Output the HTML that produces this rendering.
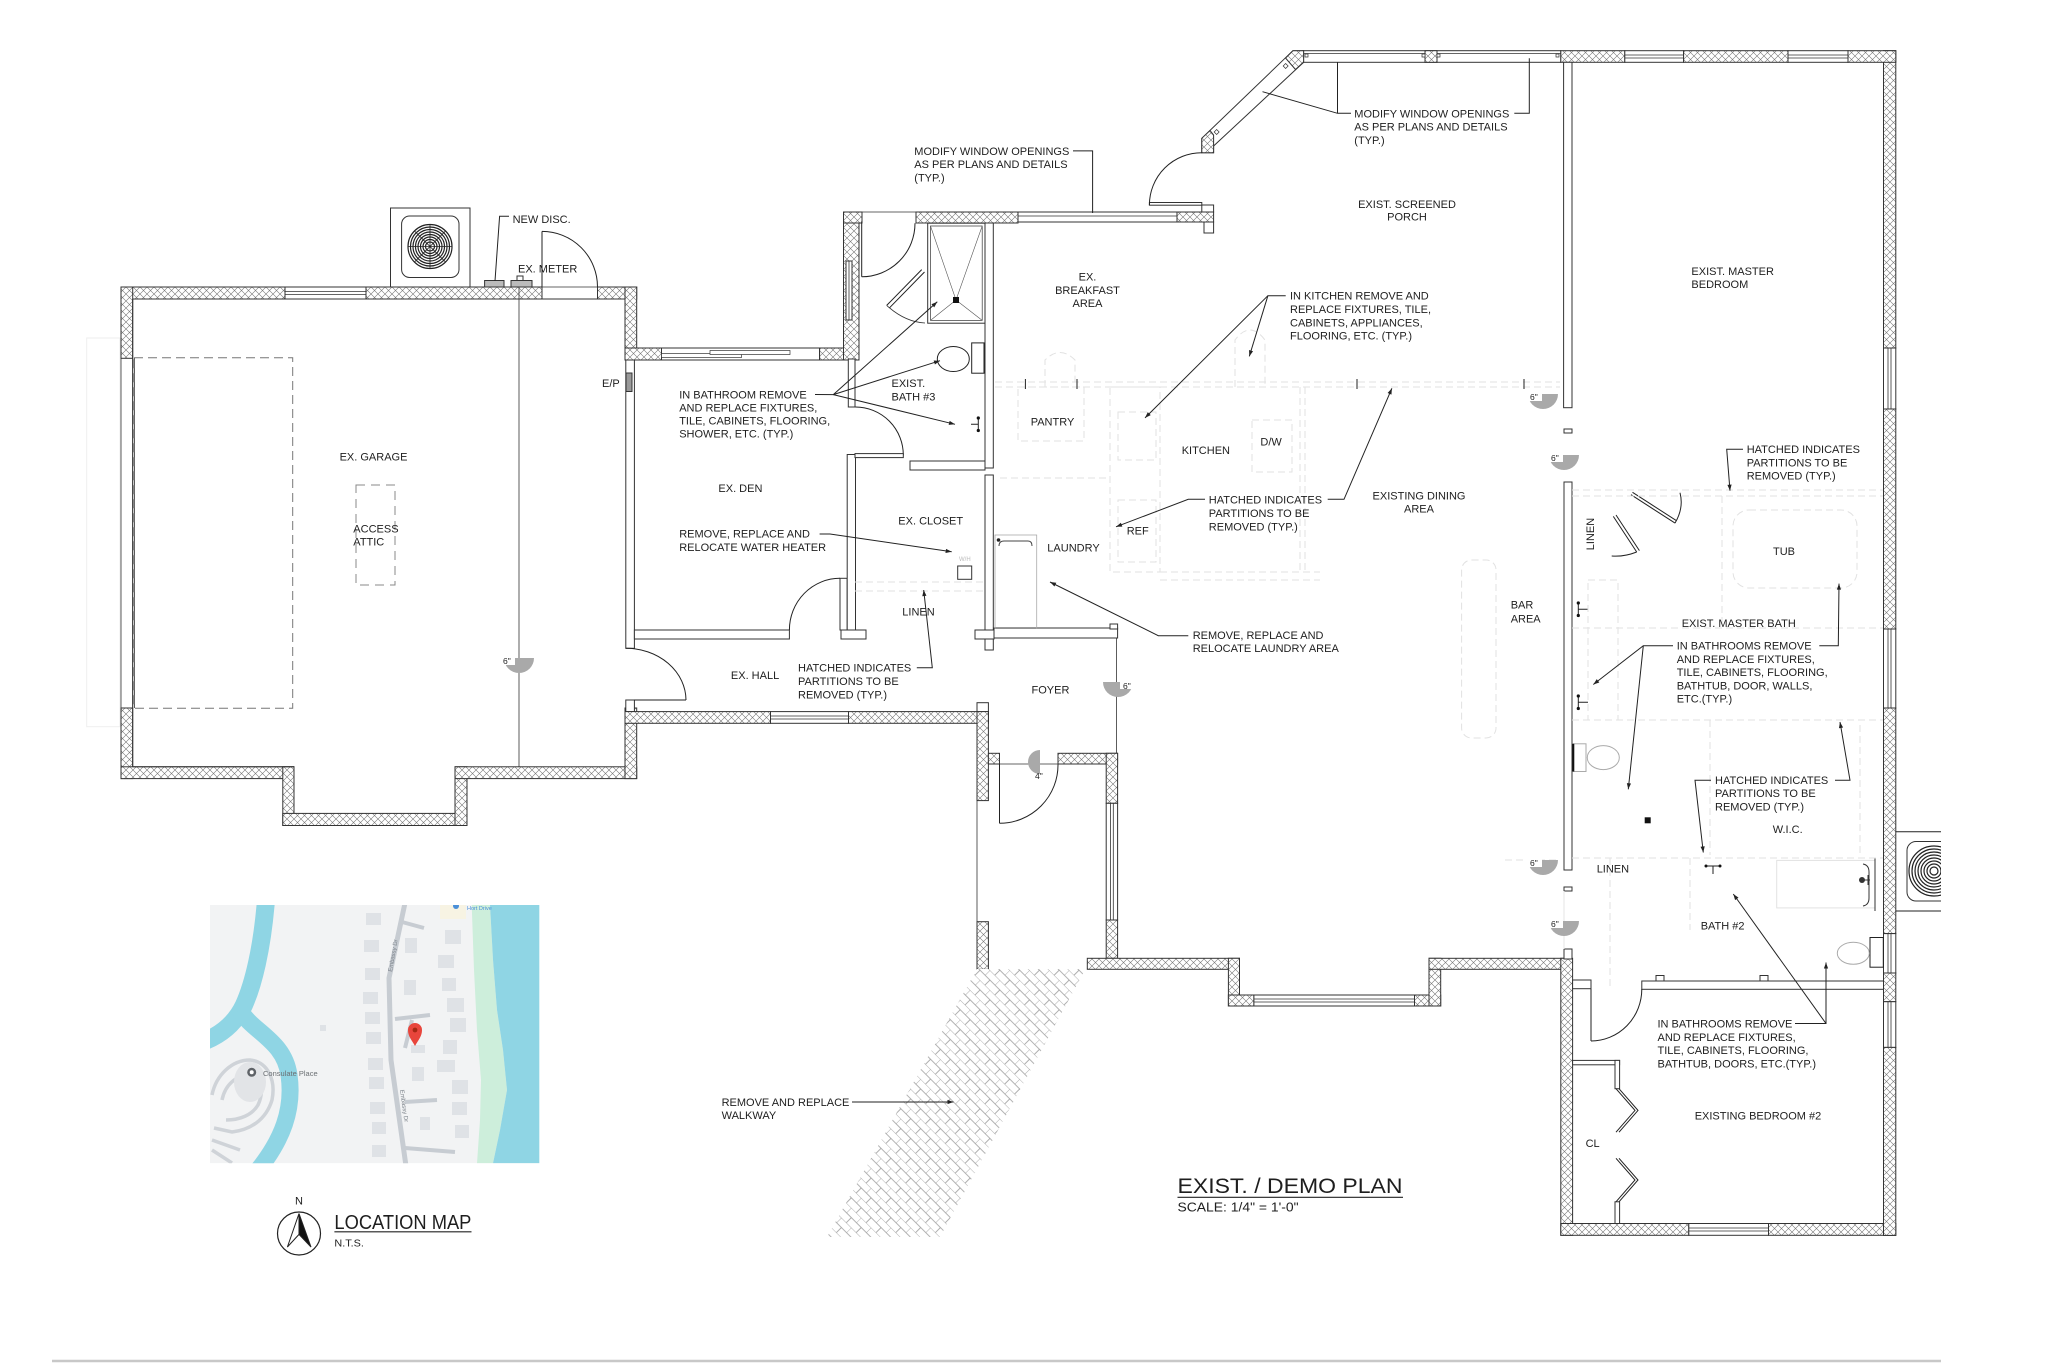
<!DOCTYPE html>
<html><head><meta charset="utf-8"><style>
html,body{margin:0;padding:0;background:#fff}
svg{display:block}
.w{fill:url(#hx);stroke:#333;stroke-width:1}
.o{fill:#fff;stroke:#333;stroke-width:1}
.ln{fill:none;stroke:#222;stroke-width:1}
.th{fill:none;stroke:#333;stroke-width:.8}
.fa{fill:none;stroke:#e2e2e2;stroke-width:1;stroke-dasharray:7 4}
.fs{fill:none;stroke:#e4e4e4;stroke-width:1}
.g6{fill:#a9a9a9}
text{font-family:"Liberation Sans",Arial,sans-serif;font-size:11px;fill:#1e1e1e}
.s8{font-size:8.5px}
.c{text-anchor:middle}
</style></head><body>
<svg width="2048" height="1364" viewBox="0 0 2048 1364" xmlns="http://www.w3.org/2000/svg">
<defs>
<pattern id="hx" width="7" height="7" patternUnits="userSpaceOnUse"><rect width="7" height="7" fill="#fff"/><path d="M0 0L7 7M7 0L0 7" stroke="#777" stroke-width="0.6"/></pattern>
<pattern id="hb" width="14" height="14" patternUnits="userSpaceOnUse" patternTransform="rotate(45)"><rect width="14" height="14" fill="#fff"/><path d="M0 0H14M0 7H14M0 0V7M7 7V14" stroke="#9a9a9a" stroke-width="0.8"/></pattern>
<marker id="a" viewBox="0 0 10 10" refX="10" refY="5" markerWidth="7" markerHeight="6" orient="auto"><path d="M0 1.5L10 5L0 8.5z" fill="#222"/></marker>
<clipPath id="mapc"><rect x="210" y="905" width="329.3" height="258.3"/></clipPath>
<clipPath id="rc"><rect x="0" y="0" width="1941" height="1364"/></clipPath>
</defs>
<rect width="2048" height="1364" fill="#fff"/>

<rect x="86.7" y="338" width="33.3" height="388.7" fill="none" stroke="#eee"/>

<!-- ================= GARAGE ================= -->
<rect class="w" x="121" y="287" width="164" height="12"/>
<rect class="o" x="285" y="287" width="81" height="12"/><path class="th" d="M285 291.5H366M285 294.5H366"/>
<rect class="w" x="366" y="287" width="176" height="12"/>
<rect class="w" x="597.5" y="287" width="39.2" height="12"/>
<rect class="w" x="625" y="287" width="11.7" height="73"/>
<rect class="w" x="121" y="287" width="11.7" height="71.3"/>
<path class="th" d="M121 358V708M132.7 358V708M134.5 358V708"/>
<rect class="w" x="121" y="708" width="11.7" height="70.6"/>
<rect class="w" x="121" y="766.8" width="173" height="11.8"/>
<rect class="w" x="282.8" y="766.8" width="11.2" height="58.7"/>
<rect class="w" x="282.8" y="813.4" width="184.2" height="12.1"/>
<rect class="w" x="455" y="766.8" width="12" height="58.7"/>
<rect class="w" x="455" y="766.8" width="181.7" height="11.8"/>
<rect class="w" x="625" y="708" width="11.7" height="70.6"/>
<path d="M132.7 299H625V360M132.7 299V766.8M132.7 766.8H294" fill="none" stroke="#333"/>
<rect x="134" y="357.7" width="158.7" height="350.6" fill="none" stroke="#777" stroke-dasharray="9 5"/>
<line class="th" x1="519" y1="287" x2="519" y2="767"/>
<rect x="356" y="485" width="39" height="100" fill="none" stroke="#888" stroke-dasharray="9 6"/>

<!-- garage AC unit -->
<rect x="390.5" y="208" width="79.5" height="79" fill="#fff" stroke="#333"/>
<rect x="401.6" y="216" width="57.4" height="61.5" rx="8" fill="#fff" stroke="#333"/>
<g fill="none" stroke="#222" stroke-width="1.2"><circle cx="430" cy="246.5" r="22"/><circle cx="430" cy="246.5" r="19.5"/><circle cx="430" cy="246.5" r="17"/><circle cx="430" cy="246.5" r="14.5"/><circle cx="430" cy="246.5" r="12"/><circle cx="430" cy="246.5" r="9.5"/><circle cx="430" cy="246.5" r="7"/><circle cx="430" cy="246.5" r="4.5"/><path d="M408 246.5H452M430 224.5V268.5M414.5 231L445.5 262M445.5 231L414.5 262" stroke-width="0.8"/></g>
<rect x="484.6" y="280.5" width="19.4" height="6.5" fill="#bbb" stroke="#333"/>
<rect x="511" y="280.5" width="21" height="6.5" fill="#bbb" stroke="#333"/>
<rect x="517" y="276" width="6" height="4.5" fill="#fff" stroke="#333"/>
<line class="ln" x1="542" y1="231.4" x2="542" y2="287"/>
<path class="ln" d="M542 231.4A55.5 55.5 0 0 1 597.5 287"/>
<line class="th" x1="542" y1="287" x2="597.5" y2="287"/>

<!-- ================= DEN / BATH3 / CLOSET ================= -->
<rect class="w" x="625" y="348" width="36.5" height="12"/>
<rect class="o" x="661.5" y="348" width="158" height="12"/>
<rect x="661.5" y="353.5" width="80" height="4" fill="#fff" stroke="#333" stroke-width=".7"/>
<rect x="710" y="350.5" width="80" height="4" fill="#fff" stroke="#333" stroke-width=".7"/>
<rect class="w" x="819.6" y="348" width="29.4" height="12"/>
<rect class="w" x="843.5" y="212" width="15.5" height="148"/>
<rect class="o" x="846" y="261" width="6" height="59"/><line class="th" x1="849" y1="261" x2="849" y2="320"/>
<rect class="w" x="843.5" y="212" width="18.5" height="11"/>
<line class="th" x1="862" y1="212" x2="916" y2="212"/>
<rect class="w" x="916" y="212" width="102" height="11"/>
<rect class="o" x="1018" y="212" width="159" height="10"/><line class="th" x1="1018" y1="216" x2="1177" y2="216"/>
<rect class="w" x="1177" y="212" width="36.6" height="10"/>
<rect class="o" x="1204" y="222" width="9.6" height="11"/>
<rect class="o" x="1201.8" y="205" width="11.8" height="7"/>

<rect class="o" x="625.8" y="360" width="8.6" height="288.3"/>
<rect class="o" x="625.8" y="700" width="8.6" height="11.6"/>
<rect class="o" x="634.4" y="630" width="155" height="9"/>
<rect class="o" x="840" y="578.3" width="7.2" height="51.7"/>
<path class="ln" d="M789.4 630A50.6 51.7 0 0 1 840 578.3"/>
<rect class="o" x="847.2" y="454.5" width="8.3" height="184.5"/>
<rect class="o" x="841" y="630" width="25" height="9"/>
<rect class="o" x="848.3" y="359" width="6.7" height="48"/>
<path class="ln" d="M855.5 407A48 48 0 0 1 903.3 455.4"/>
<rect class="o" x="855" y="453.6" width="48.3" height="4"/>
<rect class="o" x="910" y="461" width="75" height="9"/>
<line class="ln" x1="861.7" y1="221.4" x2="861.7" y2="276.8"/>
<path class="ln" d="M861.7 276.8A53.5 53.5 0 0 0 915 223.2"/>
<rect x="927.7" y="223.2" width="57.3" height="100" fill="#fff" stroke="#333"/>
<rect x="930.5" y="226" width="51.7" height="94.4" fill="none" stroke="#333" stroke-width=".7"/>
<path d="M930.5 226L956 300L982.2 226M930.5 320.4L956 300L982.2 320.4" stroke="#555" stroke-width=".6" fill="none"/>
<rect x="953" y="297" width="6" height="6" fill="#111"/>
<path class="ln" d="M921.7 269.6L886.7 305.4M924.5 272L889.5 307.8"/>
<path class="th" d="M886.7 305.4Q905 322 925 323"/>
<rect x="971.7" y="342.9" width="12.3" height="30.3" fill="#fff" stroke="#222"/>
<ellipse cx="953.3" cy="359" rx="16" ry="12.5" fill="#fff" stroke="#222"/>
<path class="ln" d="M978.3 418V430.5M971 424.3H978.3"/><circle cx="978.3" cy="418" r="1.6" fill="#111"/><circle cx="978.3" cy="430.5" r="1.6" fill="#111"/>
<rect class="o" x="985" y="223" width="8.3" height="245"/>
<rect class="o" x="985" y="475" width="8.3" height="175"/>
<rect x="957.7" y="566" width="14" height="13.3" fill="#fff" stroke="#333"/>
<text x="959" y="561" style="font-size:6px;fill:#bbb">W/H</text>
<path class="fa" d="M855 582H985M855 591H985"/>
<rect x="626" y="373" width="6" height="18.5" fill="#999" stroke="#333"/>

<rect class="o" x="994" y="628" width="123.6" height="10"/>
<rect class="o" x="975" y="630" width="19" height="9"/>
<rect x="995" y="535" width="41.7" height="93.6" fill="none" stroke="#aaa" stroke-width=".8"/>
<path d="M999 546Q999 541 1004 541H1028Q1032 541 1032 546" fill="none" stroke="#444"/>
<circle cx="998.5" cy="540" r="1.8" fill="#222"/>
<line class="th" x1="1116.5" y1="638" x2="1116.5" y2="753.3"/>
<rect class="o" x="1110" y="624" width="7.6" height="5"/>

<!-- ================= HALL / FOYER ================= -->
<rect class="w" x="625" y="711.6" width="145.5" height="11.7"/>
<rect class="o" x="770.5" y="711.6" width="78" height="11.7"/><path class="th" d="M770.5 716H848.5M770.5 719H848.5"/>
<rect class="w" x="848.5" y="711.6" width="140" height="11.7"/>
<rect class="o" x="977" y="702.7" width="11.4" height="9"/>
<rect class="w" x="977" y="711.6" width="11.4" height="89"/>
<rect class="w" x="988.4" y="753.3" width="11.1" height="10.7"/>
<line class="th" x1="977" y1="800.7" x2="977" y2="921.7"/>
<rect class="w" x="977" y="921.7" width="11.4" height="47.6"/>
<line class="ln" x1="634" y1="700" x2="686" y2="700"/>
<path class="ln" d="M625.8 648.3A60 52 0 0 1 686 700"/>
<line class="ln" x1="999.5" y1="764" x2="999.5" y2="823.3"/>
<path class="ln" d="M999.5 823.3A58.5 58.5 0 0 0 1058 764"/>
<line class="th" x1="988.4" y1="764" x2="1058" y2="764"/>
<rect class="w" x="1058" y="753.3" width="59.6" height="10.7"/>
<rect class="w" x="1106.2" y="753.3" width="11.4" height="50"/>
<rect class="o" x="1106.2" y="803.3" width="11.4" height="116.7"/><path class="th" d="M1110.5 803.3V920M1113.3 803.3V920"/>
<rect class="w" x="1106.2" y="920" width="11.4" height="38.3"/>

<polygon points="977,969 1085.5,969 940,1237 827,1237" fill="url(#hb)"/>

<!-- ================= LIVING BOTTOM / BEDROOM 2 ================= -->
<rect class="w" x="1087.3" y="958.3" width="152.2" height="11"/>
<rect class="w" x="1228.4" y="958.3" width="11.1" height="47.7"/>
<rect class="w" x="1228.4" y="995" width="25.5" height="11"/>
<rect class="o" x="1253.9" y="995" width="160.6" height="11"/><path class="th" d="M1253.9 999H1414.5M1253.9 1002H1414.5"/>
<rect class="w" x="1414.5" y="995" width="26.2" height="11"/>
<rect class="w" x="1429" y="958.3" width="11.7" height="47.7"/>
<rect class="w" x="1429" y="958.3" width="142.3" height="11"/>
<rect class="w" x="1560.8" y="958.3" width="11.8" height="277"/>
<rect class="w" x="1560.8" y="1223.5" width="128" height="11.8"/>
<rect class="o" x="1688.8" y="1223.5" width="79.7" height="11.8"/><path class="th" d="M1688.8 1228H1768.5M1688.8 1231H1768.5"/>
<rect class="w" x="1768.5" y="1223.5" width="127.3" height="11.8"/>

<rect class="w" x="1883.5" y="50.7" width="12.3" height="297.3"/>
<rect class="o" x="1883.5" y="348" width="12.3" height="61"/><path class="th" d="M1888 348V409M1891 348V409"/>
<rect class="w" x="1883.5" y="409" width="12.3" height="220"/>
<rect class="o" x="1883.5" y="629" width="12.3" height="79"/><path class="th" d="M1888 629V708M1891 629V708"/>
<rect class="w" x="1883.5" y="708" width="12.3" height="225.6"/>
<rect class="o" x="1883.5" y="933.6" width="12.3" height="39.4"/><path class="th" d="M1888 933.6V973M1891 933.6V973"/>
<rect class="w" x="1883.5" y="973" width="12.3" height="28.7"/>
<rect class="o" x="1883.5" y="1001.7" width="12.3" height="45.7"/><path class="th" d="M1888 1001.7V1047.4M1891 1001.7V1047.4"/>
<rect class="w" x="1883.5" y="1047.4" width="12.3" height="188"/>

<rect class="w" x="1560.7" y="50.7" width="64.1" height="11.6"/>
<rect class="o" x="1624.8" y="50.7" width="58.8" height="11.6"/><path class="th" d="M1624.8 55H1683.6M1624.8 58H1683.6"/>
<rect class="w" x="1683.6" y="50.7" width="104.4" height="11.6"/>
<rect class="o" x="1788" y="50.7" width="60" height="11.6"/><path class="th" d="M1788 55H1848M1788 58H1848"/>
<rect class="w" x="1848" y="50.7" width="47.8" height="11.6"/>
<rect class="o" x="1303" y="50.7" width="257.7" height="11.6"/><line class="th" x1="1303" y1="53.5" x2="1560.7" y2="53.5"/>
<rect class="w" x="1425" y="50.7" width="12" height="11.6"/>
<path d="M1305 54h3v3h-3zM1422 54h3v3h-3zM1437 54h3v3h-3zM1556 54h3v3h-3z" fill="#fff" stroke="#333" stroke-width=".7"/>
<polygon class="o" points="1292.9,50.7 1303.6,50.7 1303.6,62.3 1213.6,146 1213.6,152.7 1201.8,152.7 1201.8,138.3"/>
<polygon class="w" points="1292.9,50.7 1303.6,50.7 1303.6,62.3 1295.5,69.5 1285.5,58"/>
<polygon class="w" points="1201.8,138.3 1210,130.5 1213.6,135 1213.6,152.7 1201.8,152.7"/>
<rect x="1284" y="64" width="3.5" height="3.5" fill="#fff" stroke="#333" stroke-width=".7" transform="rotate(-45 1286 66)"/>
<rect x="1215" y="130" width="3.5" height="3.5" fill="#fff" stroke="#333" stroke-width=".7" transform="rotate(-45 1217 132)"/>
<rect class="o" x="1149.4" y="202.5" width="52.4" height="2.7"/>
<path class="ln" d="M1201.8 152.7A52.4 52.3 0 0 0 1149.4 205"/>

<rect class="o" x="1563.6" y="62.3" width="8.4" height="345.4"/>
<rect class="o" x="1564" y="429" width="8" height="4"/>
<rect class="o" x="1564" y="482" width="8" height="388"/>
<rect class="o" x="1564" y="887" width="8" height="4"/>
<rect class="o" x="1564" y="949" width="8" height="10"/>
<line class="fs" x1="1564" y1="891" x2="1564" y2="949"/>

<path class="ln" d="M1631 494.7L1675 523.1M1632.5 492.3L1676.5 520.7"/>
<path class="ln" d="M1675 523.1Q1684 508 1680 492.7"/>
<path class="ln" d="M1613.3 516.4L1636.7 552M1616 515L1639.4 550.6"/>
<path class="ln" d="M1636.7 552Q1624 557 1611.7 556"/>
<path class="ln" d="M1578.3 603V615.5M1578.3 609.3H1588"/><circle cx="1578.3" cy="603" r="1.6" fill="#111"/><circle cx="1578.3" cy="615.5" r="1.6" fill="#111"/>
<path class="ln" d="M1578.3 696V708.5M1578.3 702.3H1588"/><circle cx="1578.3" cy="696" r="1.6" fill="#111"/><circle cx="1578.3" cy="708.5" r="1.6" fill="#111"/>
<rect x="1573.3" y="743.8" width="12.7" height="27.7" fill="#fff" stroke="#aaa"/>
<line x1="1573.3" y1="743.8" x2="1573.3" y2="771.5" stroke="#111" stroke-width="2"/>
<ellipse cx="1603.3" cy="757.6" rx="16" ry="12" fill="#fff" stroke="#aaa"/>
<rect x="1644.7" y="817.3" width="6" height="6" fill="#111"/>

<rect class="o" x="1572.6" y="980" width="18.4" height="8.7"/>
<rect class="o" x="1641.8" y="981" width="241.7" height="8.3"/>
<rect class="o" x="1656" y="975.5" width="8" height="5.5"/>
<rect class="o" x="1760" y="975.5" width="8" height="5.5"/>
<line class="ln" x1="1591" y1="989" x2="1591" y2="1041"/>
<path class="ln" d="M1641.8 989A50.8 52 0 0 1 1591 1041"/>
<rect x="1870" y="937.5" width="13.3" height="29.7" fill="#fff" stroke="#222"/>
<ellipse cx="1853.3" cy="953.3" rx="16" ry="11" fill="#fff" stroke="#aaa"/>
<path class="ln" d="M1706 866H1720M1713 866V874"/><circle cx="1706" cy="866" r="1.5" fill="#111"/><circle cx="1720" cy="866" r="1.5" fill="#111"/>
<rect x="1776.7" y="860.4" width="98.3" height="47.5" fill="none" stroke="#e2e2e2"/>
<path d="M1863 864Q1869 865 1869 872V898Q1869 905 1863 906" fill="none" stroke="#333"/>
<line x1="1875" y1="858" x2="1875" y2="911" stroke="#333"/>
<circle cx="1862" cy="880" r="3" fill="#333"/><path d="M1862 880H1870M1868 875V885" stroke="#333" fill="none"/>
<rect class="o" x="1572.6" y="1060.4" width="47" height="4.4"/>
<rect class="o" x="1615" y="1060.4" width="4.6" height="28.3"/>
<path class="ln" d="M1616 1088.7L1635 1110.4L1616 1132.2M1619 1088.7L1638 1110.4L1619 1132.2"/>
<path class="ln" d="M1616 1158.3L1635 1180L1616 1201.8M1619 1158.3L1638 1180L1619 1201.8"/>
<rect class="o" x="1615" y="1201.8" width="4.6" height="21.7"/>

<g clip-path="url(#rc)">
<path class="ln" d="M1896 831.7H1950M1896 911H1950"/>
<rect x="1907" y="841.5" width="60" height="59.5" rx="9" fill="#fff" stroke="#333"/>
<g fill="none" stroke="#222" stroke-width="1.2"><circle cx="1934" cy="871" r="25"/><circle cx="1934" cy="871" r="22"/><circle cx="1934" cy="871" r="19"/><circle cx="1934" cy="871" r="16"/><circle cx="1934" cy="871" r="13"/><circle cx="1934" cy="871" r="10"/><circle cx="1934" cy="871" r="7"/><circle cx="1934" cy="871" r="4"/></g>
</g>

<!-- faint demolition partitions -->
<g class="fa">
<path d="M995 382H1560M995 387H1560"/>
<rect x="1018" y="387" width="66" height="54"/>
<rect x="1110" y="387" width="50" height="185"/>
<rect x="1118" y="412" width="38" height="48"/>
<rect x="1118" y="500" width="38" height="62"/>
<rect x="1252" y="420" width="40" height="52"/>
<path d="M1300 387V572M1305 387V572M1000 478H1110M1160 572H1320M1160 580H1320"/>
<path d="M1045 387V360Q1060 345 1075 360V387"/>
<path d="M1235 387V340Q1250 320 1265 340V387"/>
<rect x="1461.6" y="560" width="34.4" height="178" rx="10"/>
<path d="M1572 490H1883M1572 496H1883M1722 496V628M1572 628H1883"/>
<rect x="1733" y="510" width="124" height="78" rx="16"/>
<path d="M1572 720H1883M1710 720V855M1860 725V855M1572 858H1883M1610 858V990M1690 858V930"/>
<rect x="1588" y="580" width="30" height="140"/>
<path d="M1505 860H1560"/>
</g>
<path d="M1025.4 379V389M1077 379V389M1357 379V389M1524 379V389" stroke="#222"/>

<!-- 6" symbols -->
<path class="g6" d="M504 658A15 15 0 0 0 534 658Z"/><rect x="502" y="657" width="13" height="8" fill="#fff"/><text class="s8" x="503" y="664">6"</text>
<path class="g6" d="M1103 682A15 15 0 0 0 1133 682Z"/><rect x="1120" y="681" width="13" height="8" fill="#fff"/><text class="s8" x="1123" y="689">6"</text>
<path class="g6" d="M1528 394A15 15 0 0 0 1558 394Z"/><rect x="1527" y="393" width="15" height="8" fill="#fff"/><text class="s8" x="1530" y="400">6"</text>
<path class="g6" d="M1549 455A15 15 0 0 0 1579 455Z"/><rect x="1548" y="454" width="15" height="8" fill="#fff"/><text class="s8" x="1551" y="461">6"</text>
<path class="g6" d="M1528 860A15 15 0 0 0 1558 860Z"/><rect x="1527" y="859" width="15" height="8" fill="#fff"/><text class="s8" x="1530" y="866">6"</text>
<path class="g6" d="M1549 921A15 15 0 0 0 1579 921Z"/><rect x="1548" y="920" width="15" height="8" fill="#fff"/><text class="s8" x="1551" y="927">6"</text>
<path class="g6" d="M1040 750A12 12 0 0 0 1040 774Z"/><text class="s8" x="1035" y="779">4"</text>

<!-- LEADERS -->
<g class="ln">
<polyline points="509,216.2 499.6,216.2 495,281"/>
<polyline points="1073,150.9 1092.6,150.9 1092.6,213"/>
<polyline points="1514.3,113.3 1529.3,113.3 1529.3,58.3"/>
<polyline points="1351,113.3 1337.5,113.3 1262.5,91.7"/>
<line x1="1337.5" y1="113.3" x2="1337.5" y2="62.3"/>
<polyline points="1285.7,295.7 1267.9,295.7 1145,417.9" marker-end="url(#a)"/>
<line x1="1267.9" y1="295.7" x2="1249.3" y2="356.4" marker-end="url(#a)"/>
<polyline points="1205,499.3 1188.3,499.3 1116,526.8" marker-end="url(#a)"/>
<polyline points="1327.7,499.3 1344,499.3 1391.9,388.3" marker-end="url(#a)"/>
<polyline points="1188.3,635.7 1158.3,635.7 1050,582" marker-end="url(#a)"/>
<polyline points="1743,449.2 1726.7,449.2 1730,490.7" marker-end="url(#a)"/>
<polyline points="1819.3,645.7 1838.3,645.7 1839,583.6" marker-end="url(#a)"/>
<polyline points="1673,645.7 1643.3,645.7 1593.3,684.5" marker-end="url(#a)"/>
<line x1="1643.3" y1="645.7" x2="1628.3" y2="789.3" marker-end="url(#a)"/>
<polyline points="1711,780.2 1695,780.2 1703.3,852.5" marker-end="url(#a)"/>
<polyline points="1835,780.2 1850,780.2 1840,722" marker-end="url(#a)"/>
<polyline points="1795,1023.5 1826,1023.5 1826,962.5" marker-end="url(#a)"/>
<line x1="1826" y1="1023.5" x2="1733.3" y2="894" marker-end="url(#a)"/>
<line x1="852" y1="1102" x2="953.5" y2="1102" marker-end="url(#a)"/>
<polyline points="916.8,667.7 932.3,667.7 923.7,590" marker-end="url(#a)"/>
<polyline points="819.6,534 830,534 951.7,551.8" marker-end="url(#a)"/>
<polyline points="815,394.5 833.3,394.6 937.3,301.8" marker-end="url(#a)"/>
<line x1="833.3" y1="394.6" x2="940" y2="360.7" marker-end="url(#a)"/>
<line x1="833.3" y1="394.6" x2="955" y2="424.3" marker-end="url(#a)"/>
</g>

<!-- TEXT -->
<text x="512.6" y="222.8">NEW DISC.</text>
<text x="518" y="272.4">EX. METER</text>
<text x="602" y="386.8">E/P</text>
<text x="339.6" y="460.7">EX. GARAGE</text>
<text x="353.3" y="532.5">ACCESS</text>
<text x="353.3" y="545.5">ATTIC</text>
<text x="914.3" y="154.9">MODIFY WINDOW OPENINGS</text>
<text x="914.3" y="168">AS PER PLANS AND DETAILS</text>
<text x="914.3" y="181.5">(TYP.)</text>
<text x="1354.3" y="117.3">MODIFY WINDOW OPENINGS</text>
<text x="1354.3" y="130.7">AS PER PLANS AND DETAILS</text>
<text x="1354.3" y="144">(TYP.)</text>
<text class="c" x="1407" y="208">EXIST. SCREENED</text>
<text class="c" x="1407" y="220.7">PORCH</text>
<text class="c" x="1087.5" y="280.6">EX.</text>
<text class="c" x="1087.5" y="294">BREAKFAST</text>
<text class="c" x="1087.5" y="307.2">AREA</text>
<text x="1290" y="299.7">IN KITCHEN REMOVE AND</text>
<text x="1290" y="313">REPLACE FIXTURES, TILE,</text>
<text x="1290" y="326.3">CABINETS, APPLIANCES,</text>
<text x="1290" y="339.7">FLOORING, ETC. (TYP.)</text>
<text x="1691.4" y="275">EXIST. MASTER</text>
<text x="1691.4" y="288">BEDROOM</text>
<text x="891.5" y="387.2">EXIST.</text>
<text x="891.5" y="400.4">BATH #3</text>
<text x="679.2" y="398.5">IN BATHROOM REMOVE</text>
<text x="679.2" y="411.6">AND REPLACE FIXTURES,</text>
<text x="679.2" y="424.6">TILE, CABINETS, FLOORING,</text>
<text x="679.2" y="437.7">SHOWER, ETC. (TYP.)</text>
<text x="718.4" y="492">EX. DEN</text>
<text x="898.3" y="524.7">EX. CLOSET</text>
<text x="679.2" y="537.7">REMOVE, REPLACE  AND</text>
<text x="679.2" y="550.8">RELOCATE WATER HEATER</text>
<text x="902.3" y="615.7">LINEN</text>
<text x="730.9" y="679">EX. HALL</text>
<text x="798" y="671.7">HATCHED INDICATES</text>
<text x="798" y="685">PARTITIONS TO BE</text>
<text x="798" y="698.3">REMOVED (TYP.)</text>
<text x="1031.5" y="693.3">FOYER</text>
<text x="1030.7" y="425.4">PANTRY</text>
<text x="1181.7" y="454">KITCHEN</text>
<text x="1260.4" y="445.5">D/W</text>
<text x="1208.8" y="503.3">HATCHED INDICATES</text>
<text x="1208.8" y="517">PARTITIONS TO BE</text>
<text x="1208.8" y="530.3">REMOVED (TYP.)</text>
<text x="1126.7" y="534.5">REF</text>
<text x="1047.3" y="551.5">LAUNDRY</text>
<text class="c" x="1419" y="499.4">EXISTING DINING</text>
<text class="c" x="1419" y="512.5">AREA</text>
<text x="1192.7" y="639">REMOVE, REPLACE  AND</text>
<text x="1192.7" y="652.2">RELOCATE LAUNDRY AREA</text>
<text x="1510.7" y="608.6">BAR</text>
<text x="1510.7" y="622.4">AREA</text>
<text class="c" transform="translate(1594 534) rotate(-90)" x="0" y="0">LINEN</text>
<text class="c" x="1784" y="555">TUB</text>
<text x="1746.7" y="453.2">HATCHED INDICATES</text>
<text x="1746.7" y="466.6">PARTITIONS TO BE</text>
<text x="1746.7" y="479.7">REMOVED (TYP.)</text>
<text x="1681.7" y="627.2">EXIST. MASTER BATH</text>
<text x="1676.7" y="649.7">IN BATHROOMS REMOVE</text>
<text x="1676.7" y="662.8">AND REPLACE FIXTURES,</text>
<text x="1676.7" y="675.8">TILE, CABINETS, FLOORING,</text>
<text x="1676.7" y="689.3">BATHTUB, DOOR,  WALLS,</text>
<text x="1676.7" y="702.7">ETC.(TYP.)</text>
<text x="1715" y="784.2">HATCHED INDICATES</text>
<text x="1715" y="797.2">PARTITIONS TO BE</text>
<text x="1715" y="810.3">REMOVED (TYP.)</text>
<text x="1772.7" y="832.8">W.I.C.</text>
<text x="1596.7" y="872.3">LINEN</text>
<text x="1700.7" y="929.7">BATH #2</text>
<text x="1657.5" y="1027.5">IN BATHROOMS REMOVE</text>
<text x="1657.5" y="1041">AND REPLACE FIXTURES,</text>
<text x="1657.5" y="1054">TILE, CABINETS, FLOORING,</text>
<text x="1657.5" y="1067.5">BATHTUB, DOORS, ETC.(TYP.)</text>
<text x="1694.7" y="1119.7">EXISTING BEDROOM #2</text>
<text x="1585.6" y="1147">CL</text>
<text x="721.6" y="1106">REMOVE AND REPLACE</text>
<text x="721.6" y="1119">WALKWAY</text>

<text x="1177.5" y="1193" style="font-size:21.5px" textLength="225" lengthAdjust="spacingAndGlyphs">EXIST. / DEMO PLAN</text>
<line x1="1177.5" y1="1197.3" x2="1403" y2="1197.3" stroke="#222" stroke-width="1.2"/>
<text x="1177.5" y="1211.5" style="font-size:12.5px" textLength="121" lengthAdjust="spacingAndGlyphs">SCALE: 1/4" = 1'-0"</text>

<!-- LOCATION MAP -->
<g clip-path="url(#mapc)">
<rect x="210" y="905" width="329.3" height="258.3" fill="#f2f3f4"/>
<polygon points="471.7,905 490,905 493,960 497,1010 503,1050 507,1090 500,1130 493,1163.3 477,1163.3 480,1120 481,1080 477,1030 474,970" fill="#cdeedb"/>
<polygon points="490,905 540,905 540,1163.3 493,1163.3 500,1130 507,1090 503,1050 497,1010 493,960" fill="#8fd5e4"/>
<g fill="none" stroke="#8fd5e4" stroke-linecap="butt">
<path d="M266 900C262 950 253 985 244 1005C236 1022 222 1034 205 1041" stroke-width="18"/>
<path d="M240 1010C252 1032 284 1040 289 1075C294 1110 282 1140 258 1170" stroke-width="17"/>
</g>
<g fill="none" stroke="#cfd3d8" stroke-width="3.5">
<path d="M212 1095C216 1075 232 1060 250 1060C268 1062 276 1080 272 1100C266 1120 250 1130 232 1132L214 1128"/>
<path d="M222 1100C225 1085 236 1075 250 1075C262 1077 264 1092 258 1105C252 1115 240 1120 226 1120"/>
<path d="M212 1140L240 1150M212 1150L232 1163"/>
</g>
<ellipse cx="250" cy="1082" rx="16" ry="20" fill="#e2e4e7"/>
<circle cx="251.7" cy="1072.3" r="4.5" fill="#5f6368"/><circle cx="251.7" cy="1072.3" r="2" fill="#fff"/>
<text x="263" y="1076" style="font-size:7.5px;fill:#6b6f73">Consulate Place</text>
<g fill="none" stroke="#c7ccd2" stroke-width="5">
<path d="M405 903L389 978L391 1060L406 1166"/>
<path d="M402 922L424 928M395 1019L430 1015M405 1102L437 1100M405 1148L455 1152M412 1020L405 1048" stroke-width="4"/>
</g>
<text transform="translate(392 972) rotate(-80)" style="font-size:6px;fill:#7a8088">Embassy Dr</text>
<text transform="translate(400 1090) rotate(82)" style="font-size:6px;fill:#7a8088">Embassy Dr</text>
<g fill="#dfe2e6">
<rect x="366" y="913" width="15" height="12"/><rect x="364" y="940" width="15" height="12"/><rect x="365" y="968" width="15" height="12"/><rect x="363" y="992" width="15" height="12"/><rect x="365" y="1012" width="15" height="12"/><rect x="366" y="1032" width="15" height="12"/><rect x="368" y="1058" width="15" height="12"/><rect x="369" y="1077" width="15" height="12"/><rect x="370" y="1102" width="15" height="12"/><rect x="372" y="1122" width="14" height="12"/><rect x="372" y="1145" width="14" height="12"/>
<rect x="405" y="938" width="12" height="15"/><rect x="404" y="980" width="12" height="15"/><rect x="412" y="1067" width="12" height="14"/><rect x="420" y="1117" width="10" height="13"/><rect x="411" y="1045" width="14" height="8"/>
<rect x="445" y="930" width="16" height="14"/><rect x="438" y="955" width="16" height="13"/><rect x="442" y="978" width="14" height="13"/><rect x="447" y="998" width="17" height="14"/><rect x="450" y="1018" width="16" height="14"/><rect x="443" y="1040" width="14" height="14"/><rect x="437" y="1060" width="18" height="12"/><rect x="452" y="1080" width="16" height="14"/><rect x="452" y="1102" width="15" height="13"/><rect x="455" y="1125" width="14" height="13"/>
<rect x="320" y="1025" width="6" height="6"/>
</g>
<rect x="440" y="905" width="26" height="14" fill="#f7f3e3"/>
<circle cx="456" cy="906" r="3" fill="#4a8fd8"/>
<text x="467" y="910" style="font-size:5.5px;fill:#4a8fd8">Hort Drive</text>
<path d="M415 1046C411 1039 408 1036 408 1030A7 7 0 1 1 422 1030C422 1036 419 1039 415 1046Z" fill="#e8453c"/>
<circle cx="415" cy="1030" r="2.4" fill="#a52714"/>
</g>

<text class="c" x="299" y="1204.5">N</text>
<circle cx="299" cy="1233.5" r="21.5" fill="none" stroke="#222" stroke-width="1.2"/>
<polygon points="299,1213.6 287.4,1247 299,1234.4" fill="#fff" stroke="#222"/>
<polygon points="299,1213.6 311,1247 299,1234.4" fill="#111" stroke="#222"/>
<text x="334.4" y="1229" style="font-size:20px" textLength="137" lengthAdjust="spacingAndGlyphs">LOCATION MAP</text>
<line x1="334.4" y1="1231.8" x2="471.5" y2="1231.8" stroke="#222" stroke-width="1.2"/>
<text x="334.4" y="1246.5" style="font-size:10px" textLength="29.5" lengthAdjust="spacingAndGlyphs">N.T.S.</text>

<line x1="52" y1="1361" x2="1941" y2="1361" stroke="#c8c8c8" stroke-width="2.5"/>
</svg>
</body></html>
